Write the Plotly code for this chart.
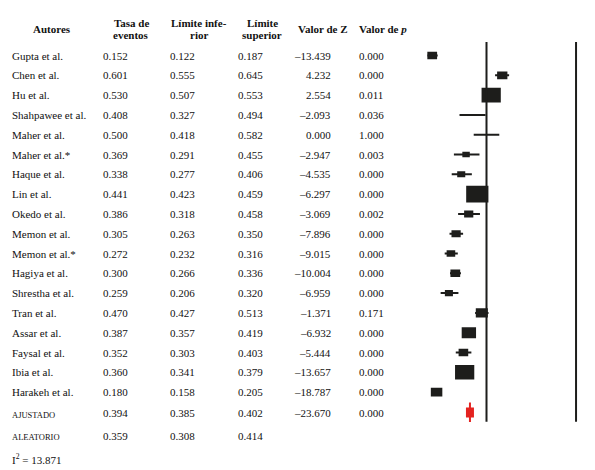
import math
import plotly.graph_objects as go

# ---------------- data ----------------
autores = ["Gupta et al.", "Chen et al.", "Hu et al.", "Shahpawee et al.", "Maher et al.",
           "Maher et al.*", "Haque et al.", "Lin et al.", "Okedo et al.", "Memon et al.",
           "Memon et al.*", "Hagiya et al.", "Shrestha et al.", "Tran et al.", "Assar et al.",
           "Faysal et al.", "Ibia et al.", "Harakeh et al."]
tasa = [0.152, 0.601, 0.530, 0.408, 0.500, 0.369, 0.338, 0.441, 0.386, 0.305,
        0.272, 0.300, 0.259, 0.470, 0.387, 0.352, 0.360, 0.180]
lim_inf = [0.122, 0.555, 0.507, 0.327, 0.418, 0.291, 0.277, 0.423, 0.318, 0.263,
           0.232, 0.266, 0.206, 0.427, 0.357, 0.303, 0.341, 0.158]
lim_sup = [0.187, 0.645, 0.553, 0.494, 0.582, 0.455, 0.406, 0.459, 0.458, 0.350,
           0.316, 0.336, 0.320, 0.513, 0.419, 0.403, 0.379, 0.205]
valor_z = [-13.439, 4.232, 2.554, -2.093, 0.000, -2.947, -4.535, -6.297, -3.069, -7.896,
           -9.015, -10.004, -6.959, -1.371, -6.932, -5.444, -13.657, -18.787]
valor_p = [0.000, 0.000, 0.011, 0.036, 1.000, 0.003, 0.000, 0.000, 0.002, 0.000,
           0.000, 0.000, 0.000, 0.171, 0.000, 0.000, 0.000, 0.000]
peso = [72, 80, 280, 0, 0, 42, 49, 374, 64, 64, 56, 72, 49, 110, 156, 70, 280, 100]

resumen_nombres = ["AJUSTADO", "ALEATORIO"]
resumen_tasa = [0.394, 0.359]
resumen_inf = [0.385, 0.308]
resumen_sup = [0.402, 0.414]
resumen_z = [-23.670, None]
resumen_p = [0.000, None]
i2 = 13.871
referencia = 0.5
limite_derecho = 1.074

# ---------------- layout constants ----------------
W, H = 595, 470
FONT = "Liberation Serif"
TXT = "#111111"
DARK = "#1d1d1b"
RED = "#e42320"
row0_px, row_px = 55.5, 19.8
x_range = [0.0, 1.1]
dom = [408.5 / W, (408.5 + 156 * 1.1) / W]
px_per_x = (dom[1] - dom[0]) * W / (x_range[1] - x_range[0])
y_range = [(H - row0_px) / row_px, -row0_px / row_px]

n = len(autores)
fila_ajust = n + 0.08
fila_aleat = n + 1.2
fila_i2 = n + 2.38


def fmt(v):
    return f"{v:.3f}".replace("-", "–")


fig = go.Figure()

# whiskers
wx, wy = [], []
for i in range(n):
    wx += [lim_inf[i], lim_sup[i], None]
    wy += [i, i, None]
fig.add_trace(go.Scatter(x=wx, y=wy, mode="lines", line=dict(color=DARK, width=2),
                         hoverinfo="skip", showlegend=False))

shapes = []
for i in range(n):
    if peso[i] <= 0:
        continue
    s = math.sqrt(peso[i])
    w = s * 1.15 / px_per_x
    h = s * 0.87 / row_px
    shapes.append(dict(type="rect", xref="x", yref="y", x0=tasa[i] - w / 2, x1=tasa[i] + w / 2,
                       y0=i - h / 2, y1=i + h / 2, fillcolor=DARK, line=dict(width=0)))

# pooled (fixed-effect) marker
pw, ph = 8 / px_per_x, 10 / row_px
shapes.append(dict(type="rect", xref="x", yref="y", x0=resumen_tasa[0] - pw / 2,
                   x1=resumen_tasa[0] + pw / 2, y0=fila_ajust - 0.05 - ph / 2,
                   y1=fila_ajust - 0.05 + ph / 2, fillcolor=RED, line=dict(width=0)))
shapes.append(dict(type="line", xref="x", yref="y", x0=resumen_tasa[0], x1=resumen_tasa[0],
                   y0=fila_ajust - 0.55, y1=fila_ajust + 0.43, line=dict(color=RED, width=2)))
fig.add_trace(go.Scatter(x=[resumen_inf[0], resumen_sup[0]], y=[fila_ajust - 0.05] * 2,
                         mode="lines", line=dict(color=RED, width=2), hoverinfo="skip",
                         showlegend=False))

# vertical reference lines
for xv in (referencia, limite_derecho):
    shapes.append(dict(type="line", xref="x", yref="y", x0=xv, x1=xv, y0=-0.68, y1=n + 0.5,
                       line=dict(color=DARK, width=2)))

ann = []


def txt(xp, y, s, anchor="left", yref="y", size=11, bold=False):
    if bold:
        s = "<b>" + s + "</b>"
    ann.append(dict(x=xp / W, y=y if yref == "y" else 1 - y / H, xref="paper", yref=yref,
                    text=s, showarrow=False, xanchor=anchor, yanchor="middle",
                    font=dict(family=FONT, size=size, color=TXT), borderpad=0, borderwidth=0))


# header
txt(52, 28.5, "Autores", "center", "paper", bold=True)
txt(131, 23, "Tasa de", "center", "paper", bold=True)
txt(131, 34.5, "eventos", "center", "paper", bold=True)
txt(199.5, 23, "Límite infe-", "center", "paper", bold=True)
txt(199.5, 34.5, "rior", "center", "paper", bold=True)
txt(262, 23, "Límite", "center", "paper", bold=True)
txt(262, 34.5, "superior", "center", "paper", bold=True)
txt(323, 28.5, "Valor de Z", "center", "paper", bold=True)
txt(359, 28.5, "Valor de <i>p</i>", "left", "paper", bold=True)

for i in range(n):
    txt(12, i, autores[i])
    txt(103, i, fmt(tasa[i]))
    txt(170, i, fmt(lim_inf[i]))
    txt(238, i, fmt(lim_sup[i]))
    txt(331, i, fmt(valor_z[i]), "right")
    txt(359, i, fmt(valor_p[i]))

for k, fila in enumerate((fila_ajust, fila_aleat)):
    txt(12, fila + 0.09, resumen_nombres[k], size=8.5)
    txt(103, fila, fmt(resumen_tasa[k]))
    txt(170, fila, fmt(resumen_inf[k]))
    txt(238, fila, fmt(resumen_sup[k]))
    if resumen_z[k] is not None:
        txt(331, fila, fmt(resumen_z[k]), "right")
        txt(359, fila, fmt(resumen_p[k]))

txt(12, fila_i2, f"I<sup>2</sup> = {i2:.3f}")

fig.update_layout(
    width=W, height=H, autosize=False,
    margin=dict(l=0, r=0, t=0, b=0, pad=0),
    paper_bgcolor="white", plot_bgcolor="white",
    xaxis=dict(domain=dom, range=x_range, visible=False, fixedrange=True),
    yaxis=dict(domain=[0, 1], range=y_range, visible=False, fixedrange=True),
    shapes=shapes, annotations=ann, showlegend=False,
)

fig.write_html("out.html")
